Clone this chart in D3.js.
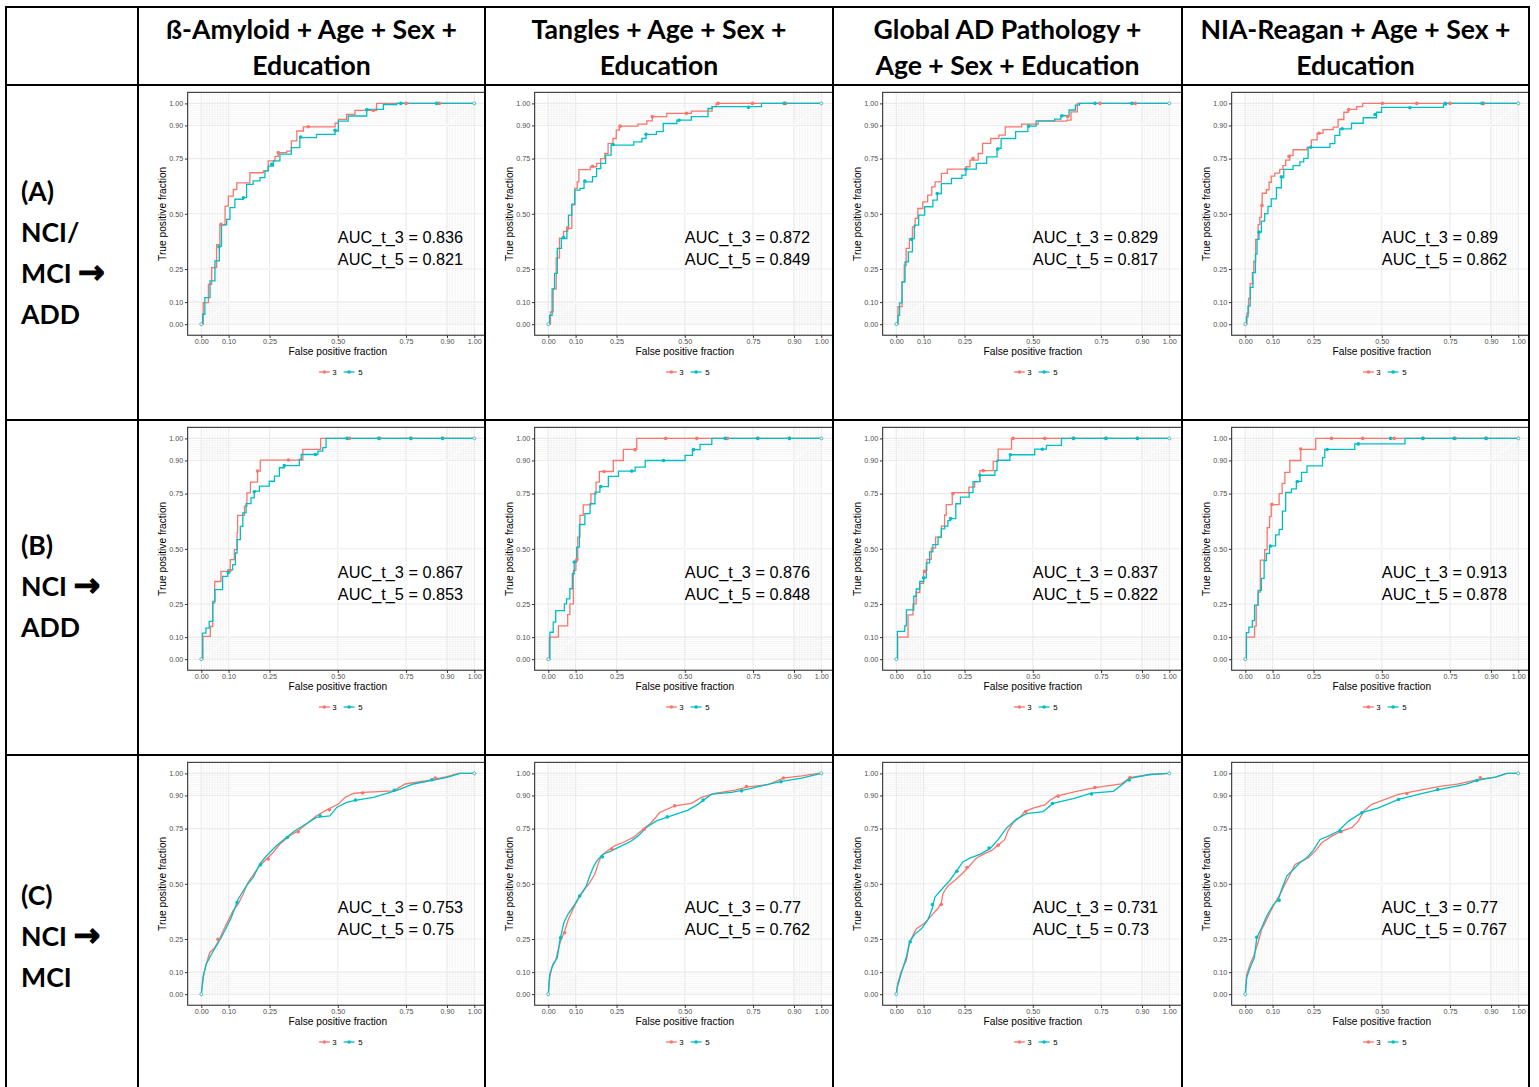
<!DOCTYPE html>
<html><head><meta charset="utf-8">
<script src="https://cdn.jsdelivr.net/npm/d3@7"></script>
<style>html,body{margin:0;padding:0;background:#fff;} svg{display:block;}</style>
</head><body>
<svg id="chart" width="1539" height="1087"></svg>
<script>
// ---------- text content ----------
const columnHeaders = [
  ["ß-Amyloid + Age + Sex +", "Education"],
  ["Tangles + Age + Sex +", "Education"],
  ["Global AD Pathology +", "Age + Sex + Education"],
  ["NIA-Reagan + Age + Sex +", "Education"]
];
const rowLabels = [
  ["(A)", "NCI/", "MCI →", "ADD"],
  ["(B)", "NCI →", "ADD"],
  ["(C)", "NCI →", "MCI"]
];
const seriesNames = ["3", "5"];
const majorBreaks = [0, 0.1, 0.25, 0.5, 0.75, 0.9, 1];
const minorBreaks = [0,0.01,0.02,0.03,0.04,0.05,0.06,0.07,0.08,0.09,0.1,0.9,0.91,0.92,0.93,0.94,0.95,0.96,0.97,0.98,0.99,1];

// ---------- AUC values ----------
const aucT3 = [[0.836, 0.872, 0.829, 0.89], [0.867, 0.876, 0.837, 0.913], [0.753, 0.77, 0.731, 0.77]];
const aucT5 = [[0.821, 0.849, 0.817, 0.862], [0.853, 0.848, 0.822, 0.878], [0.75, 0.762, 0.73, 0.767]];

// ---------- ROC curves (FPR, TPR) ----------
const rowA_t3 = [
  [[0,0],[0.007,0.098],[0.026,0.18],[0.038,0.256],[0.056,0.36],[0.068,0.45],[0.087,0.535],[0.099,0.58],[0.117,0.61],[0.13,0.64],[0.178,0.686],[0.227,0.694],[0.245,0.74],[0.27,0.76],[0.282,0.777],[0.313,0.784],[0.33,0.83],[0.35,0.875],[0.374,0.894],[0.49,0.91],[0.502,0.928],[0.532,0.95],[0.563,0.968],[0.642,1],[1,1]],
  [[0,0],[0.008,0.056],[0.018,0.16],[0.029,0.3],[0.041,0.39],[0.056,0.42],[0.071,0.434],[0.086,0.54],[0.097,0.615],[0.106,0.645],[0.112,0.7],[0.154,0.713],[0.177,0.728],[0.192,0.75],[0.207,0.773],[0.219,0.819],[0.237,0.841],[0.249,0.879],[0.26,0.897],[0.328,0.906],[0.361,0.921],[0.381,0.94],[0.434,0.955],[0.524,0.965],[0.6,0.985],[0.615,1],[1,1]],
  [[0,0],[0.006,0.08],[0.021,0.192],[0.029,0.267],[0.036,0.343],[0.048,0.388],[0.059,0.441],[0.069,0.479],[0.079,0.524],[0.097,0.554],[0.115,0.585],[0.13,0.622],[0.142,0.645],[0.165,0.683],[0.187,0.702],[0.255,0.713],[0.27,0.743],[0.3,0.773],[0.316,0.819],[0.346,0.841],[0.376,0.856],[0.399,0.894],[0.459,0.906],[0.52,0.92],[0.625,0.924],[0.64,0.962],[0.663,1],[1,1]],
  [[0,0],[0.006,0.05],[0.012,0.117],[0.018,0.184],[0.026,0.234],[0.031,0.284],[0.038,0.384],[0.047,0.451],[0.053,0.484],[0.059,0.534],[0.062,0.593],[0.077,0.609],[0.087,0.643],[0.095,0.671],[0.108,0.684],[0.126,0.701],[0.138,0.718],[0.148,0.743],[0.163,0.765],[0.175,0.79],[0.226,0.801],[0.242,0.835],[0.263,0.865],[0.285,0.881],[0.322,0.893],[0.34,0.927],[0.361,0.96],[0.377,0.973],[0.408,0.985],[0.43,1],[1,1]]
];
const rowA_t5 = [
  [[0,0],[0.005,0.045],[0.013,0.12],[0.032,0.196],[0.05,0.287],[0.066,0.354],[0.074,0.45],[0.093,0.475],[0.105,0.528],[0.123,0.566],[0.154,0.573],[0.166,0.633],[0.19,0.649],[0.215,0.664],[0.233,0.694],[0.245,0.716],[0.264,0.74],[0.288,0.77],[0.33,0.8],[0.361,0.845],[0.422,0.86],[0.49,0.875],[0.502,0.92],[0.538,0.943],[0.606,0.973],[0.667,0.995],[0.716,1],[1,1]],
  [[0,0],[0.005,0.04],[0.014,0.16],[0.023,0.23],[0.033,0.343],[0.048,0.388],[0.068,0.44],[0.074,0.494],[0.086,0.544],[0.097,0.607],[0.116,0.615],[0.131,0.645],[0.162,0.668],[0.177,0.705],[0.192,0.728],[0.21,0.766],[0.23,0.811],[0.313,0.826],[0.343,0.841],[0.358,0.86],[0.396,0.872],[0.421,0.909],[0.471,0.924],[0.524,0.94],[0.585,0.977],[0.6,0.985],[0.733,0.985],[0.781,1],[1,1]],
  [[0,0],[0.006,0.04],[0.012,0.097],[0.021,0.192],[0.032,0.282],[0.044,0.328],[0.059,0.388],[0.066,0.449],[0.082,0.494],[0.104,0.532],[0.134,0.562],[0.15,0.592],[0.165,0.637],[0.202,0.66],[0.24,0.675],[0.255,0.702],[0.293,0.728],[0.331,0.758],[0.369,0.796],[0.384,0.841],[0.437,0.872],[0.482,0.897],[0.512,0.921],[0.58,0.929],[0.603,0.944],[0.633,0.97],[0.656,0.992],[0.671,1],[1,1]],
  [[0,0],[0.004,0.033],[0.01,0.083],[0.018,0.167],[0.028,0.234],[0.037,0.317],[0.043,0.384],[0.05,0.417],[0.059,0.467],[0.071,0.501],[0.083,0.534],[0.095,0.568],[0.114,0.618],[0.132,0.664],[0.141,0.701],[0.175,0.718],[0.2,0.735],[0.214,0.751],[0.23,0.801],[0.31,0.818],[0.328,0.855],[0.346,0.885],[0.389,0.91],[0.432,0.935],[0.481,0.96],[0.499,0.982],[0.603,0.982],[0.726,0.993],[0.736,1],[1,1]]
];
const rowB_t3 = [
  [[0,0],[0.006,0.103],[0.033,0.148],[0.042,0.254],[0.049,0.352],[0.072,0.398],[0.106,0.451],[0.121,0.496],[0.131,0.572],[0.133,0.651],[0.158,0.693],[0.167,0.753],[0.18,0.802],[0.206,0.852],[0.216,0.902],[0.372,0.95],[0.437,1],[1,1]],
  [[0,0],[0.004,0.1],[0.037,0.151],[0.071,0.202],[0.079,0.251],[0.092,0.402],[0.101,0.45],[0.108,0.553],[0.116,0.651],[0.128,0.699],[0.156,0.749],[0.175,0.802],[0.187,0.85],[0.238,0.9],[0.275,0.95],[0.324,1],[1,1]],
  [[0,0],[0.005,0.1],[0.043,0.201],[0.061,0.251],[0.073,0.302],[0.086,0.343],[0.1,0.402],[0.112,0.452],[0.128,0.503],[0.144,0.553],[0.165,0.603],[0.177,0.653],[0.183,0.7],[0.205,0.754],[0.266,0.779],[0.287,0.804],[0.306,0.854],[0.355,0.896],[0.373,0.951],[0.422,1],[1,1]],
  [[0,0],[0.004,0.1],[0.034,0.15],[0.04,0.245],[0.047,0.304],[0.055,0.449],[0.071,0.496],[0.08,0.596],[0.089,0.646],[0.095,0.7],[0.124,0.75],[0.135,0.796],[0.145,0.846],[0.163,0.9],[0.203,0.95],[0.258,1],[1,1]]
];
const rowB_t5 = [
  [[0,0],[0.004,0.118],[0.017,0.141],[0.029,0.171],[0.042,0.262],[0.05,0.315],[0.078,0.375],[0.097,0.405],[0.115,0.428],[0.125,0.481],[0.131,0.542],[0.143,0.602],[0.152,0.663],[0.164,0.705],[0.182,0.731],[0.194,0.761],[0.213,0.784],[0.249,0.806],[0.268,0.829],[0.286,0.867],[0.304,0.877],[0.359,0.905],[0.366,0.927],[0.427,0.942],[0.445,0.958],[0.457,1],[1,1]],
  [[0,0],[0.006,0.122],[0.018,0.168],[0.027,0.22],[0.059,0.251],[0.067,0.273],[0.079,0.319],[0.088,0.387],[0.095,0.44],[0.104,0.508],[0.114,0.61],[0.134,0.659],[0.153,0.704],[0.171,0.757],[0.189,0.782],[0.22,0.828],[0.257,0.852],[0.318,0.87],[0.355,0.9],[0.501,0.923],[0.528,0.949],[0.556,0.973],[0.599,1],[1,1]],
  [[0,0],[0.004,0.126],[0.031,0.151],[0.037,0.223],[0.064,0.285],[0.073,0.318],[0.086,0.352],[0.1,0.369],[0.11,0.436],[0.122,0.486],[0.134,0.519],[0.153,0.553],[0.165,0.59],[0.177,0.603],[0.189,0.628],[0.199,0.637],[0.218,0.704],[0.235,0.734],[0.267,0.754],[0.281,0.804],[0.306,0.833],[0.361,0.854],[0.369,0.901],[0.416,0.926],[0.507,0.951],[0.55,0.968],[0.605,1],[1,1]],
  [[0,0],[0.004,0.12],[0.013,0.145],[0.026,0.175],[0.034,0.245],[0.047,0.312],[0.059,0.366],[0.069,0.446],[0.077,0.479],[0.089,0.513],[0.111,0.563],[0.124,0.588],[0.136,0.671],[0.148,0.755],[0.169,0.771],[0.187,0.805],[0.206,0.846],[0.226,0.876],[0.283,0.913],[0.291,0.95],[0.401,0.975],[0.585,1],[1,1]]
];
const rowC_t3 = [
  [[0,0],[0.009,0.091],[0.018,0.136],[0.031,0.189],[0.049,0.211],[0.067,0.249],[0.08,0.287],[0.098,0.332],[0.116,0.378],[0.135,0.408],[0.153,0.453],[0.171,0.506],[0.196,0.551],[0.214,0.582],[0.239,0.612],[0.263,0.642],[0.288,0.68],[0.324,0.718],[0.355,0.74],[0.392,0.778],[0.422,0.808],[0.465,0.838],[0.502,0.861],[0.526,0.891],[0.557,0.909],[0.594,0.914],[0.704,0.921],[0.747,0.952],[0.826,0.967],[0.9,0.985],[0.942,1],[1,1]],
  [[0,0],[0.005,0.074],[0.013,0.12],[0.026,0.15],[0.035,0.195],[0.045,0.241],[0.06,0.286],[0.072,0.334],[0.09,0.384],[0.109,0.43],[0.133,0.475],[0.152,0.505],[0.17,0.543],[0.182,0.588],[0.194,0.626],[0.213,0.646],[0.243,0.672],[0.274,0.687],[0.311,0.71],[0.347,0.747],[0.378,0.778],[0.408,0.823],[0.463,0.853],[0.524,0.864],[0.561,0.891],[0.61,0.909],[0.683,0.924],[0.732,0.939],[0.806,0.949],[0.861,0.979],[0.928,0.989],[0.989,1],[1,1]],
  [[0,0],[0.006,0.052],[0.018,0.103],[0.037,0.153],[0.049,0.237],[0.073,0.296],[0.104,0.322],[0.128,0.355],[0.153,0.389],[0.165,0.414],[0.171,0.456],[0.189,0.49],[0.214,0.515],[0.244,0.549],[0.263,0.574],[0.293,0.616],[0.318,0.633],[0.348,0.65],[0.373,0.675],[0.397,0.7],[0.41,0.742],[0.428,0.776],[0.452,0.801],[0.471,0.827],[0.501,0.843],[0.544,0.857],[0.562,0.877],[0.587,0.897],[0.66,0.919],[0.727,0.936],[0.825,0.953],[0.856,0.981],[0.929,0.995],[0.996,1],[1,1]],
  [[0,0],[0.005,0.089],[0.017,0.134],[0.033,0.18],[0.048,0.24],[0.06,0.293],[0.072,0.323],[0.09,0.369],[0.109,0.414],[0.127,0.452],[0.145,0.497],[0.164,0.542],[0.182,0.588],[0.207,0.603],[0.231,0.618],[0.256,0.648],[0.28,0.686],[0.317,0.716],[0.353,0.739],[0.39,0.754],[0.414,0.784],[0.433,0.829],[0.463,0.86],[0.512,0.882],[0.561,0.905],[0.622,0.92],[0.708,0.94],[0.781,0.953],[0.855,0.973],[0.916,0.983],[0.958,1],[1,1]]
];
const rowC_t5 = [
  [[0,0],[0.006,0.076],[0.018,0.136],[0.037,0.181],[0.055,0.219],[0.073,0.257],[0.092,0.302],[0.11,0.347],[0.135,0.43],[0.165,0.491],[0.19,0.529],[0.214,0.589],[0.239,0.627],[0.275,0.672],[0.312,0.71],[0.343,0.74],[0.373,0.763],[0.422,0.801],[0.471,0.808],[0.496,0.846],[0.532,0.869],[0.569,0.879],[0.63,0.891],[0.692,0.914],[0.728,0.929],[0.777,0.952],[0.851,0.97],[0.9,0.982],[0.949,1],[1,1]],
  [[0,0],[0.005,0.089],[0.017,0.135],[0.033,0.165],[0.042,0.241],[0.057,0.324],[0.072,0.362],[0.097,0.407],[0.115,0.445],[0.139,0.49],[0.152,0.536],[0.167,0.581],[0.182,0.611],[0.2,0.634],[0.231,0.649],[0.268,0.672],[0.304,0.694],[0.329,0.717],[0.359,0.755],[0.396,0.785],[0.439,0.803],[0.512,0.834],[0.549,0.861],[0.598,0.906],[0.671,0.914],[0.732,0.929],[0.781,0.944],[0.855,0.964],[0.928,0.979],[1,1]],
  [[0,0],[0.004,0.035],[0.018,0.094],[0.037,0.17],[0.049,0.237],[0.067,0.271],[0.092,0.296],[0.116,0.338],[0.132,0.389],[0.141,0.439],[0.165,0.473],[0.196,0.515],[0.22,0.557],[0.244,0.599],[0.269,0.616],[0.306,0.633],[0.342,0.658],[0.373,0.7],[0.403,0.751],[0.44,0.793],[0.477,0.818],[0.538,0.827],[0.574,0.864],[0.648,0.886],[0.715,0.911],[0.795,0.919],[0.831,0.953],[0.856,0.978],[0.929,0.995],[1,1]],
  [[0,0],[0.005,0.074],[0.017,0.119],[0.033,0.165],[0.042,0.255],[0.06,0.301],[0.078,0.353],[0.103,0.406],[0.121,0.429],[0.133,0.474],[0.152,0.535],[0.176,0.565],[0.2,0.595],[0.225,0.618],[0.249,0.651],[0.274,0.701],[0.304,0.716],[0.341,0.739],[0.378,0.784],[0.427,0.822],[0.488,0.844],[0.561,0.882],[0.634,0.905],[0.708,0.927],[0.806,0.95],[0.848,0.968],[0.916,0.983],[0.958,1],[1,1]]
];

// ---------- cutoff markers on each curve ----------
const rowA_t3_cuts = [
  [[0.072,0.452],[0.282,0.777],[0.392,0.894],[0.63,0.968],[0.75,1],[0.872,1]],
  [[0.071,0.434],[0.162,0.715],[0.263,0.897],[0.381,0.941],[0.506,0.955],[0.622,1],[0.748,1],[0.869,1]],
  [[0.281,0.75],[0.628,0.94],[0.746,1],[0.875,1]],
  [[0.061,0.538],[0.16,0.76],[0.27,0.865],[0.379,0.972],[0.502,1],[0.628,1],[0.75,1],[0.873,1]]
];
const rowA_t5_cuts = [
  [[0.065,0.351],[0.154,0.573],[0.258,0.724],[0.364,0.848],[0.49,0.878],[0.606,0.971],[0.731,1],[0.862,1]],
  [[0.056,0.393],[0.134,0.648],[0.237,0.814],[0.358,0.86],[0.479,0.924],[0.733,0.982],[0.864,1]],
  [[0.056,0.384],[0.15,0.592],[0.255,0.702],[0.372,0.793],[0.485,0.897],[0.607,0.944],[0.728,1],[0.863,1]],
  [[0.05,0.417],[0.132,0.668],[0.24,0.801],[0.355,0.885],[0.475,0.95],[0.603,0.98],[0.732,1],[0.867,1]]
];
const rowB_t3_cuts = [
  [[0.105,0.401],[0.206,0.852],[0.319,0.902],[0.543,1],[0.653,1],[0.769,1],[0.885,1]],
  [[0.104,0.45],[0.204,0.85],[0.318,0.949],[0.43,1],[0.544,1],[0.656,1],[0.768,1],[0.883,1]],
  [[0.104,0.397],[0.208,0.75],[0.318,0.854],[0.428,1],[0.544,1],[0.648,1],[0.768,1],[0.883,1]],
  [[0.098,0.701],[0.203,0.952],[0.316,1],[0.43,1],[0.545,1],[0.652,1],[0.769,1],[0.882,1]]
];
const rowB_t5_cuts = [
  [[0.099,0.393],[0.194,0.758],[0.304,0.877],[0.418,0.927],[0.534,1],[0.65,1],[0.767,1],[0.883,1]],
  [[0.095,0.44],[0.192,0.782],[0.306,0.852],[0.422,0.9],[0.532,0.949],[0.648,1],[0.767,1],[0.883,1]],
  [[0.1,0.369],[0.199,0.637],[0.306,0.833],[0.418,0.926],[0.535,0.951],[0.65,1],[0.768,1],[0.883,1]],
  [[0.092,0.513],[0.191,0.805],[0.3,0.95],[0.414,0.975],[0.532,1],[0.65,1],[0.765,1],[0.882,1]]
];
const rowC_t3_cuts = [
  [[0.061,0.249],[0.245,0.612],[0.355,0.736],[0.469,0.835],[0.591,0.911],[0.857,0.979]],
  [[0.06,0.278],[0.233,0.657],[0.351,0.747],[0.463,0.853],[0.726,0.941],[0.861,0.979]],
  [[0.165,0.406],[0.259,0.574],[0.373,0.675],[0.474,0.827],[0.593,0.897],[0.727,0.936],[0.856,0.981]],
  [[0.351,0.736],[0.592,0.909],[0.861,0.98]]
];
const rowC_t5_cuts = [
  [[0.131,0.415],[0.217,0.586],[0.315,0.71],[0.435,0.808],[0.565,0.879],[0.707,0.924],[0.845,0.971]],
  [[0.045,0.256],[0.115,0.445],[0.198,0.622],[0.436,0.803],[0.567,0.879],[0.708,0.921],[0.852,0.962]],
  [[0.051,0.237],[0.132,0.406],[0.222,0.557],[0.34,0.662],[0.572,0.864],[0.715,0.907],[0.853,0.97]],
  [[0.042,0.258],[0.124,0.425],[0.347,0.739],[0.427,0.822],[0.561,0.882],[0.705,0.927],[0.848,0.968]]
];

// ---------- layout / style ----------
const COLORS = ["#F8766D", "#00BFC4"];
const colX = [6, 138, 485, 833, 1182, 1529];
const rowY = [7, 85, 420, 755, 1087];
const PLOT_FONT = "'Liberation Sans', Arial, Helvetica, sans-serif";
const TABLE_FONT = "Lato, 'Open Sans', sans-serif";

const svg = d3.select("#chart");
const defs = svg.append("defs");

const rows = [
  {t3: rowA_t3, t5: rowA_t5, c3: rowA_t3_cuts, c5: rowA_t5_cuts, step: true},
  {t3: rowB_t3, t5: rowB_t5, c3: rowB_t3_cuts, c5: rowB_t5_cuts, step: true},
  {t3: rowC_t3, t5: rowC_t5, c3: rowC_t3_cuts, c5: rowC_t5_cuts, step: false}
];

function drawPanel(r, c) {
  const L = colX[c + 1], T = rowY[r + 1];
  const x = d3.scaleLinear().domain([0, 1]).range([L + 63.3, L + 336.3]);
  const y = d3.scaleLinear().domain([0, 1]).range([T + 239.2, T + 18.4]);
  const clipId = `clip-${r}-${c}`;
  defs.append("clipPath").attr("id", clipId).append("rect")
    .attr("x", L).attr("y", T).attr("width", colX[c + 2] - L).attr("height", rowY[r + 2] - T);
  const g = svg.append("g").attr("clip-path", `url(#${clipId})`);
  const px0 = x(-0.05), px1 = x(1.05), py0 = y(-0.05), py1 = y(1.05);

  // grid
  const grid = g.append("g");
  minorBreaks.forEach(v => {
    grid.append("line").attr("x1", x(v)).attr("x2", x(v)).attr("y1", py1).attr("y2", py0)
      .attr("stroke", "#ebebeb").attr("stroke-width", 0.55);
    grid.append("line").attr("x1", px0).attr("x2", px1).attr("y1", y(v)).attr("y2", y(v))
      .attr("stroke", "#ebebeb").attr("stroke-width", 0.55);
  });
  majorBreaks.forEach(v => {
    grid.append("line").attr("x1", x(v)).attr("x2", x(v)).attr("y1", py1).attr("y2", py0)
      .attr("stroke", "#ebebeb").attr("stroke-width", 1.1);
    grid.append("line").attr("x1", px0).attr("x2", px1).attr("y1", y(v)).attr("y2", y(v))
      .attr("stroke", "#ebebeb").attr("stroke-width", 1.1);
  });
  // reference diagonal
  g.append("line").attr("x1", x(-0.05)).attr("y1", y(-0.05)).attr("x2", x(1.05)).attr("y2", y(1.05))
    .attr("stroke", "#ffffff").attr("stroke-width", 1);

  const line = d3.line().x(d => x(d[0])).y(d => y(d[1]))
    .curve(rows[r].step ? d3.curveStepAfter : d3.curveLinear);
  const curves = [rows[r].t3[c], rows[r].t5[c]];
  const cuts = [rows[r].c3[c], rows[r].c5[c]];
  curves.forEach((d, i) => {
    g.append("path").datum(d).attr("d", line).attr("fill", "none")
      .attr("stroke", COLORS[i]).attr("stroke-width", 1.3).attr("stroke-linejoin", "miter");
  });
  cuts.forEach((pts, i) => {
    g.selectAll(null).data(pts).enter().append("circle")
      .attr("cx", d => x(d[0])).attr("cy", d => y(d[1])).attr("r", 1.8).attr("fill", COLORS[i]);
  });
  curves.forEach((d, i) => {
    [d[0], d[d.length - 1]].forEach(p => {
      g.append("circle").attr("cx", x(p[0])).attr("cy", y(p[1])).attr("r", 1.4)
        .attr("fill", "#fff").attr("stroke", COLORS[i]).attr("stroke-width", 0.7);
    });
  });

  // panel border
  g.append("rect").attr("x", px0).attr("y", py1).attr("width", px1 - px0).attr("height", py0 - py1)
    .attr("fill", "none").attr("stroke", "#333333").attr("stroke-width", 1.1);

  // axes
  const fmt = d3.format(".2f");
  const ay = g.append("g").attr("transform", `translate(${px0},0)`)
    .call(d3.axisLeft(y).tickValues(majorBreaks).tickFormat(fmt).tickSizeInner(2.7).tickSizeOuter(0).tickPadding(1.6));
  const ax = g.append("g").attr("transform", `translate(0,${py0})`)
    .call(d3.axisBottom(x).tickValues(majorBreaks).tickFormat(fmt).tickSizeInner(2.7).tickSizeOuter(0).tickPadding(1.4));
  [ax, ay].forEach(a => {
    a.select(".domain").remove();
    a.selectAll(".tick line").attr("stroke", "#333333").attr("stroke-width", 1);
    a.selectAll(".tick text").attr("fill", "#4d4d4d").style("font-size", "7.2px").style("font-family", PLOT_FONT);
  });

  const pcx = (px0 + px1) / 2, pcy = (py0 + py1) / 2;
  g.append("text").attr("x", pcx).attr("y", T + 269.8).attr("text-anchor", "middle")
    .style("font-family", PLOT_FONT).style("font-size", "10.2px").attr("fill", "#000")
    .text("False positive fraction");
  g.append("text").attr("transform", `translate(${L + 28.3},${pcy}) rotate(-90)`).attr("text-anchor", "middle")
    .style("font-family", PLOT_FONT).style("font-size", "10.2px").attr("fill", "#000")
    .text("True positive fraction");

  // AUC annotation
  g.append("text").attr("x", x(0.5)).attr("y", T + 158).style("font-family", PLOT_FONT)
    .style("font-size", "16.3px").attr("fill", "#000").text(`AUC_t_3 = ${aucT3[r][c]}`);
  g.append("text").attr("x", x(0.5)).attr("y", T + 179.7).style("font-family", PLOT_FONT)
    .style("font-size", "16.3px").attr("fill", "#000").text(`AUC_t_5 = ${aucT5[r][c]}`);

  // legend
  const ly = T + 287;
  const keys = [{x0: pcx - 18.9, tx: pcx - 5.6}, {x0: pcx + 5.8, tx: pcx + 20.4}];
  keys.forEach((k, i) => {
    g.append("line").attr("x1", k.x0).attr("x2", k.x0 + 11).attr("y1", ly).attr("y2", ly)
      .attr("stroke", COLORS[i]).attr("stroke-width", 1.3);
    g.append("circle").attr("cx", k.x0 + 5.5).attr("cy", ly).attr("r", 1.8).attr("fill", COLORS[i]);
    g.append("text").attr("x", k.tx).attr("y", ly + 2.8).style("font-family", PLOT_FONT)
      .style("font-size", "7.8px").attr("fill", "#000").text(seriesNames[i]);
  });
}

for (let r = 0; r < 3; r++) for (let c = 0; c < 4; c++) drawPanel(r, c);

// ---------- table text ----------
const probe = svg.append("text").style("font-family", TABLE_FONT).style("font-weight", "bold")
  .style("font-size", "100px").text(columnHeaders[0][0]);
const probeW = probe.node().getComputedTextLength();
probe.remove();
const HFS = Math.min(30, Math.max(20, 100 * 291 / probeW));

columnHeaders.forEach((lines, c) => {
  const cx = (colX[c + 1] + colX[c + 2]) / 2;
  lines.forEach((t, i) => {
    svg.append("text").attr("x", cx).attr("y", 38.5 + i * 36.5).attr("text-anchor", "middle")
      .style("font-family", TABLE_FONT).style("font-weight", "bold").style("font-size", HFS + "px")
      .attr("fill", "#000").text(t);
  });
});

const rowLabelCenters = [252.5, 586.5, 936];
rowLabels.forEach((lines, r) => {
  const n = lines.length;
  lines.forEach((t, i) => {
    const yb = rowLabelCenters[r] + (i - (n - 1) / 2) * 41 + HFS * 0.36;
    const txt = svg.append("text").attr("x", 21).attr("y", yb)
      .style("font-family", TABLE_FONT).style("font-weight", "bold").style("font-size", HFS + "px").attr("fill", "#000");
    if (t.includes("→")) {
      txt.append("tspan").text(t.replace(" →", "") + " ");
      txt.append("tspan").style("font-family", "'DejaVu Sans', sans-serif").style("font-weight", "bold")
        .style("font-size", (HFS * 1.2) + "px").attr("stroke", "#000").attr("stroke-width", 1.1).text("→");
    } else {
      txt.text(t);
    }
  });
});

// ---------- table borders ----------
const borders = svg.append("g").attr("stroke", "#000").attr("stroke-width", 2);
colX.forEach(xv => borders.append("line").attr("x1", xv).attr("x2", xv).attr("y1", rowY[0] - 1).attr("y2", 1087));
rowY.slice(0, 4).forEach(yv => borders.append("line").attr("x1", colX[0] - 1).attr("x2", colX[5] + 1).attr("y1", yv).attr("y2", yv));
</script>
</body></html>
